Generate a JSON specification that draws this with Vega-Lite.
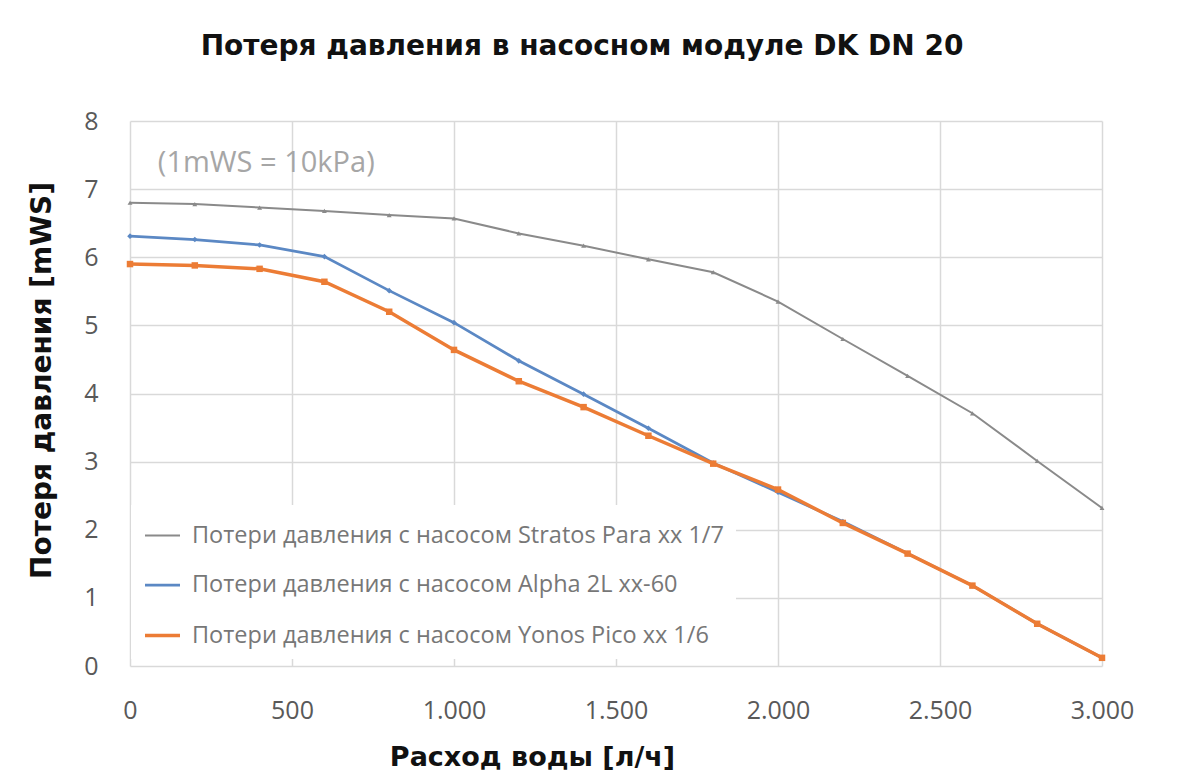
{
  "$schema": "https://vega.github.io/schema/vega-lite/v6.json",
  "autosize": {"type": "none"},
  "width": 972,
  "height": 545,
  "padding": {"left": 130, "top": 121, "right": 93, "bottom": 115},
  "background": "white",
  "title": {
    "text": "Потеря давления в насосном модуле DK DN 20",
    "font": "DejaVu Sans",
    "fontSize": 28,
    "fontWeight": "bold",
    "color": "#111111",
    "anchor": "middle",
    "frame": "group",
    "dx": -34,
    "offset": 48
  },
  "datasets": {
    "curves": [
      {"flow": 0, "loss": 6.80, "pump": "Потери давления с насосом Stratos Para xx 1/7"},
      {"flow": 200, "loss": 6.78, "pump": "Потери давления с насосом Stratos Para xx 1/7"},
      {"flow": 400, "loss": 6.73, "pump": "Потери давления с насосом Stratos Para xx 1/7"},
      {"flow": 600, "loss": 6.68, "pump": "Потери давления с насосом Stratos Para xx 1/7"},
      {"flow": 800, "loss": 6.62, "pump": "Потери давления с насосом Stratos Para xx 1/7"},
      {"flow": 1000, "loss": 6.57, "pump": "Потери давления с насосом Stratos Para xx 1/7"},
      {"flow": 1200, "loss": 6.35, "pump": "Потери давления с насосом Stratos Para xx 1/7"},
      {"flow": 1400, "loss": 6.17, "pump": "Потери давления с насосом Stratos Para xx 1/7"},
      {"flow": 1600, "loss": 5.97, "pump": "Потери давления с насосом Stratos Para xx 1/7"},
      {"flow": 1800, "loss": 5.78, "pump": "Потери давления с насосом Stratos Para xx 1/7"},
      {"flow": 2000, "loss": 5.35, "pump": "Потери давления с насосом Stratos Para xx 1/7"},
      {"flow": 2200, "loss": 4.80, "pump": "Потери давления с насосом Stratos Para xx 1/7"},
      {"flow": 2400, "loss": 4.26, "pump": "Потери давления с насосом Stratos Para xx 1/7"},
      {"flow": 2600, "loss": 3.71, "pump": "Потери давления с насосом Stratos Para xx 1/7"},
      {"flow": 2800, "loss": 3.01, "pump": "Потери давления с насосом Stratos Para xx 1/7"},
      {"flow": 3000, "loss": 2.32, "pump": "Потери давления с насосом Stratos Para xx 1/7"},
      {"flow": 0, "loss": 6.31, "pump": "Потери давления с насосом Alpha 2L xx-60"},
      {"flow": 200, "loss": 6.26, "pump": "Потери давления с насосом Alpha 2L xx-60"},
      {"flow": 400, "loss": 6.18, "pump": "Потери давления с насосом Alpha 2L xx-60"},
      {"flow": 600, "loss": 6.01, "pump": "Потери давления с насосом Alpha 2L xx-60"},
      {"flow": 800, "loss": 5.51, "pump": "Потери давления с насосом Alpha 2L xx-60"},
      {"flow": 1000, "loss": 5.04, "pump": "Потери давления с насосом Alpha 2L xx-60"},
      {"flow": 1200, "loss": 4.48, "pump": "Потери давления с насосом Alpha 2L xx-60"},
      {"flow": 1400, "loss": 3.99, "pump": "Потери давления с насосом Alpha 2L xx-60"},
      {"flow": 1600, "loss": 3.49, "pump": "Потери давления с насосом Alpha 2L xx-60"},
      {"flow": 1800, "loss": 2.98, "pump": "Потери давления с насосом Alpha 2L xx-60"},
      {"flow": 2000, "loss": 2.55, "pump": "Потери давления с насосом Alpha 2L xx-60"},
      {"flow": 2200, "loss": 2.12, "pump": "Потери давления с насосом Alpha 2L xx-60"},
      {"flow": 2400, "loss": 1.65, "pump": "Потери давления с насосом Alpha 2L xx-60"},
      {"flow": 2600, "loss": 1.18, "pump": "Потери давления с насосом Alpha 2L xx-60"},
      {"flow": 2800, "loss": 0.62, "pump": "Потери давления с насосом Alpha 2L xx-60"},
      {"flow": 3000, "loss": 0.12, "pump": "Потери давления с насосом Alpha 2L xx-60"},
      {"flow": 0, "loss": 5.90, "pump": "Потери давления с насосом Yonos Pico xx 1/6"},
      {"flow": 200, "loss": 5.88, "pump": "Потери давления с насосом Yonos Pico xx 1/6"},
      {"flow": 400, "loss": 5.83, "pump": "Потери давления с насосом Yonos Pico xx 1/6"},
      {"flow": 600, "loss": 5.64, "pump": "Потери давления с насосом Yonos Pico xx 1/6"},
      {"flow": 800, "loss": 5.20, "pump": "Потери давления с насосом Yonos Pico xx 1/6"},
      {"flow": 1000, "loss": 4.64, "pump": "Потери давления с насосом Yonos Pico xx 1/6"},
      {"flow": 1200, "loss": 4.18, "pump": "Потери давления с насосом Yonos Pico xx 1/6"},
      {"flow": 1400, "loss": 3.80, "pump": "Потери давления с насосом Yonos Pico xx 1/6"},
      {"flow": 1600, "loss": 3.38, "pump": "Потери давления с насосом Yonos Pico xx 1/6"},
      {"flow": 1800, "loss": 2.97, "pump": "Потери давления с насосом Yonos Pico xx 1/6"},
      {"flow": 2000, "loss": 2.59, "pump": "Потери давления с насосом Yonos Pico xx 1/6"},
      {"flow": 2200, "loss": 2.10, "pump": "Потери давления с насосом Yonos Pico xx 1/6"},
      {"flow": 2400, "loss": 1.65, "pump": "Потери давления с насосом Yonos Pico xx 1/6"},
      {"flow": 2600, "loss": 1.18, "pump": "Потери давления с насосом Yonos Pico xx 1/6"},
      {"flow": 2800, "loss": 0.62, "pump": "Потери давления с насосом Yonos Pico xx 1/6"},
      {"flow": 3000, "loss": 0.12, "pump": "Потери давления с насосом Yonos Pico xx 1/6"}
    ],
    "note": [
      {"flow": 86, "loss": 7.38, "label": "(1mWS = 10kPa)"}
    ]
  },
  "encoding": {
    "x": {
      "field": "flow",
      "type": "quantitative",
      "scale": {"domain": [0, 3000], "nice": false},
      "axis": {
        "title": "Расход воды [л/ч]",
        "values": [0, 500, 1000, 1500, 2000, 2500, 3000],
        "labelExpr": "replace(format(datum.value, ','), ',', '.')",
        "labelFont": "Open Sans",
        "labelFontSize": 25,
        "labelColor": "#595959",
        "labelPadding": 32,
        "labelFlush": false,
        "ticks": false,
        "domain": false,
        "grid": true,
        "gridColor": "#d9d9d9",
        "gridWidth": 1.5,
        "titleFont": "DejaVu Sans",
        "titleFontSize": 27,
        "titleFontWeight": "bold",
        "titleColor": "#111111",
        "titleX": 402,
        "titleY": 91,
        "titleBaseline": "middle",
        "titleAnchor": "middle"
      }
    },
    "y": {
      "field": "loss",
      "type": "quantitative",
      "scale": {"domain": [0, 8], "nice": false},
      "axis": {
        "title": "Потеря давления [mWS]",
        "values": [0, 1, 2, 3, 4, 5, 6, 7, 8],
        "labelFont": "Open Sans",
        "labelFontSize": 25,
        "labelColor": "#595959",
        "labelPadding": 32,
        "ticks": false,
        "domain": false,
        "grid": true,
        "gridColor": "#d9d9d9",
        "gridWidth": 1.5,
        "titleFont": "DejaVu Sans",
        "titleFontSize": 28,
        "titleFontWeight": "bold",
        "titleColor": "#111111",
        "titleX": -88,
        "titleY": 259,
        "titleBaseline": "middle",
        "titleAnchor": "middle"
      }
    }
  },
  "layer": [
    {
      "data": {"name": "note"},
      "mark": {"type": "text", "align": "left", "baseline": "middle", "font": "Open Sans", "fontSize": 29, "color": "#a6a6a6"},
      "encoding": {"text": {"field": "label"}}
    },
    {
      "data": {"name": "curves"},
      "mark": {"type": "line"},
      "encoding": {
        "color": {
          "field": "pump",
          "type": "nominal",
          "scale": {
            "domain": ["Потери давления с насосом Stratos Para xx 1/7", "Потери давления с насосом Alpha 2L xx-60", "Потери давления с насосом Yonos Pico xx 1/6"],
            "range": ["#8a8a8a", "#5b88c4", "#ec7c35"]
          },
          "legend": {
            "orient": "none",
            "legendX": 1,
            "legendY": 384,
            "title": null,
            "fillColor": "white",
            "padding": 12,
            "symbolType": "stroke",
            "symbolSize": 1225,
            "symbolStrokeWidth": 3,
            "labelFont": "Open Sans",
            "labelFontSize": 23.5,
            "labelColor": "#777777",
            "labelOffset": 10,
            "labelLimit": 0,
            "rowPadding": 19
          }
        },
        "strokeWidth": {
          "field": "pump",
          "type": "nominal",
          "scale": {
            "domain": ["Потери давления с насосом Stratos Para xx 1/7", "Потери давления с насосом Alpha 2L xx-60", "Потери давления с насосом Yonos Pico xx 1/6"],
            "range": [2, 3.5, 2.8]
          },
          "legend": null
        }
      }
    },
    {
      "data": {"name": "curves"},
      "transform": [{"filter": "datum.pump == 'Потери давления с насосом Stratos Para xx 1/7'"}],
      "mark": {"type": "point", "filled": true, "opacity": 1, "shape": "triangle-up", "size": 24, "color": "#8a8a8a"}
    },
    {
      "data": {"name": "curves"},
      "transform": [{"filter": "datum.pump == 'Потери давления с насосом Alpha 2L xx-60'"}],
      "mark": {"type": "point", "filled": true, "opacity": 1, "shape": "diamond", "size": 32, "color": "#5b88c4"}
    },
    {
      "data": {"name": "curves"},
      "transform": [{"filter": "datum.pump == 'Потери давления с насосом Yonos Pico xx 1/6'"}],
      "mark": {"type": "point", "filled": true, "opacity": 1, "shape": "square", "size": 42, "color": "#ec7c35"}
    }
  ],
  "config": {
    "view": {"stroke": null}
  }
}
